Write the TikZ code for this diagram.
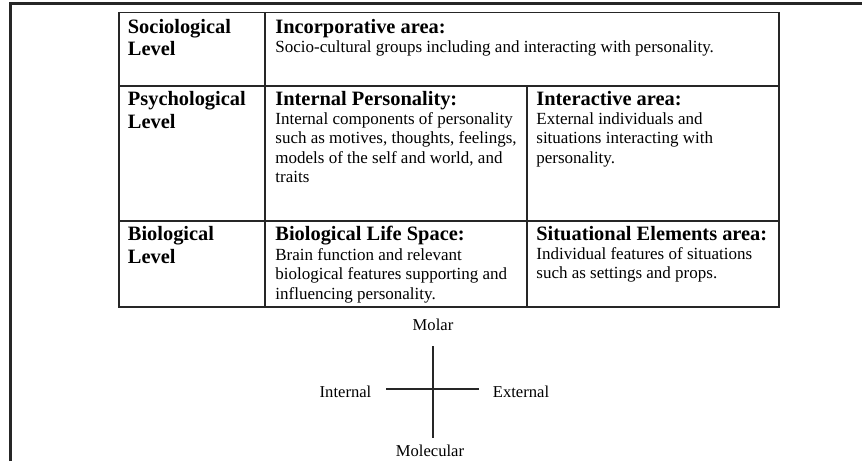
\documentclass[tikz,border=0pt]{standalone}
\usepackage{fontspec}
\setmainfont{Liberation Serif}
\begin{document}
\begin{tikzpicture}[x=0.5pt,y=-0.5pt]

	\tikzset{grid line/.style={line width=0.8pt, black!85}}
	\tikzset{level/.style={anchor=base west, inner sep=0pt, align=left, font=\fontsize{10.2}{11.25}\selectfont\bfseries}}
	\tikzset{area/.style={anchor=base west, inner sep=0pt, font=\fontsize{10.2}{11.25}\selectfont\bfseries}}
	\tikzset{about/.style={anchor=base west, inner sep=0pt, align=left, font=\fontsize{8.5}{9.7}\selectfont}}
	\tikzset{pole/.style={inner sep=0pt, font=\fontsize{8.3}{10}\selectfont}}

	\useasboundingbox (0,0) rectangle (862,461);

	\draw[line width=1.1pt, black!85] (10.5,461) -- (10.5,3.5) -- (862,3.5);

	\draw[grid line] (119,12.5) rectangle (779,307);
	\draw[grid line] (119,86) -- (779,86);
	\draw[grid line] (119,221) -- (779,221);
	\draw[grid line] (265,12.5) -- (265,307);
	\draw[grid line] (527,86) -- (527,307);

	% multi-line nodes sit on the baseline of their last line
	\node[level] (socio) at (127.5,55.5) {Sociological\\Level};
	\node[level] (psycho) at (127.5,128) {Psychological\\Level};
	\node[level] (bio) at (127.5,263) {Biological\\Level};

	\node[area] (incorp) at (275,33) {Incorporative area:};
	\node[about] (incorp text) at (275,52) {Socio-cultural groups including and interacting with personality.};

	\node[area] (internal) at (275,105.5) {Internal Personality:};
	\node[about] (internal text) at (275,182.7) {Internal components of personality\\such as motives, thoughts, feelings,\\models of the self and world, and\\traits};

	\node[area] (interact) at (536,105.5) {Interactive area:};
	\node[about] (interact text) at (536,163.3) {External individuals and\\situations interacting with\\personality.};

	\node[area] (lifespace) at (275,240.5) {Biological Life Space:};
	\node[about] (lifespace text) at (275,299.3) {Brain function and relevant\\biological features supporting and\\influencing personality.};

	\node[area] (elements) at (536,240.5) {Situational Elements area:};
	\node[about] (elements text) at (536,278.9) {Individual features of situations\\such as settings and props.};

	\node[pole] (molar) at (433,325) {Molar};
	\node[pole] (molecular) at (430,451) {Molecular};
	\node[pole] (inner) at (345.5,392) {Internal};
	\node[pole] (outer) at (521,392) {External};

	\coordinate (top) at (433,346);
	\coordinate (bottom) at (433,438);
	\coordinate (left) at (386,389);
	\coordinate (right) at (479,389);

	\draw[line width=0.6pt, black!85] (top) -- (bottom);
	\draw[line width=0.6pt, black!85] (left) -- (right);

\end{tikzpicture}
\end{document}
